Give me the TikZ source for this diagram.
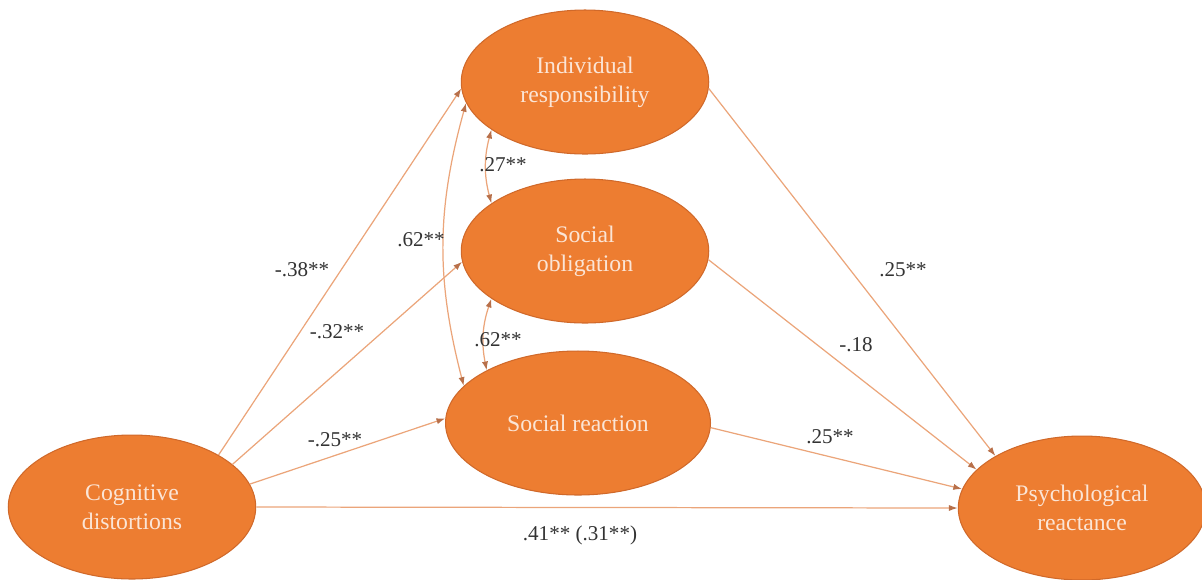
\documentclass[tikz,border=0pt]{standalone}
\usepackage{fontspec}
\setmainfont{Liberation Serif}
\usetikzlibrary{shapes.geometric,arrows.meta}
\definecolor{boxfill}{HTML}{ED7D31}
\definecolor{boxline}{HTML}{D0692A}
\definecolor{boxtext}{HTML}{FBE5D6}
\definecolor{pathcol}{HTML}{EBA57A}
\definecolor{tipcol}{HTML}{B8704A}
\tikzset{var/.style={ellipse,draw=boxline,fill=boxfill,text=boxtext,line width=0.6pt,
    minimum width=4.95cm,minimum height=2.88cm,inner sep=0pt,align=center,
    font=\fontsize{13.5}{16.5}\selectfont},
  coef/.style={draw=none,inner sep=0pt,text=black!80,font=\fontsize{12}{14}\selectfont},
  arr/.style={draw=pathcol,line width=0.7pt,-{Latex[length=5pt,width=3.5pt,color=tipcol]}},
  cov/.style={draw=pathcol,line width=0.7pt,{Latex[length=5pt,width=3.5pt,color=tipcol]}-{Latex[length=5pt,width=3.5pt,color=tipcol]}}}

\begin{document}
\begin{tikzpicture}[x=0.02cm,y=-0.02cm]
      \useasboundingbox (0,0) rectangle (1202,579);
      \node[var] (cd) at (132,507) {Cognitive\\distortions};
      \node[var] (ir) at (585,82) {Individual\\responsibility};
      \node[var] (so) at (585,251) {Social\\obligation};
      \node[var,minimum width=5.3cm] (sr) at (578,423) {Social reaction};
      \node[var] (pr) at (1082,508) {Psychological\\reactance};

\foreach \a/\b in {cd.31/ir.183,cd.23/so.185,cd.11/sr.178,cd.east/pr.west,
                   ir.-3/pr.149,so.-4/pr.160,sr.-2/pr.171}
  \draw[arr] (\a) -- (\b);
\foreach \a/\b in {ir.207/so.153,so.207/sr.150,ir.190/sr.162}
  \draw[cov] (\a) to[bend right=15] (\b);

      \node[coef] (c1) at (302,270) {-.38**};
      \node[coef] (c2) at (337,332) {-.32**};
      \node[coef] (c3) at (335,440) {-.25**};
      \node[coef] (c4) at (580,535) {.41** (.31**)};
      \node[coef] (c5) at (503,165) {.27**};
      \node[coef] (c6) at (421,240) {.62**};
      \node[coef] (c7) at (498,340) {.62**};
      \node[coef] (c8) at (903,270) {.25**};
      \node[coef] (c9) at (856,345) {-.18};
      \node[coef] (c10) at (830,437) {.25**};
    \end{tikzpicture}
\end{document}
